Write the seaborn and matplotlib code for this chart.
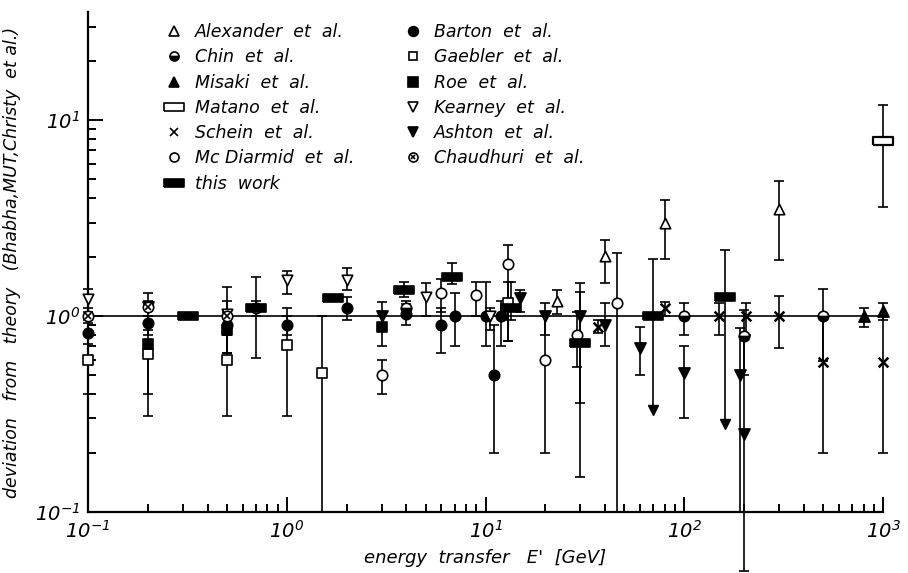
import numpy as np
import matplotlib
matplotlib.use("Agg")
import matplotlib.pyplot as plt
import seaborn as sns
from matplotlib.lines import Line2D

sns.set_theme(style="ticks", rc={
    "axes.edgecolor": "black", "text.color": "black",
    "axes.labelcolor": "black", "xtick.color": "black", "ytick.color": "black",
})
plt.rcParams["font.family"] = ["DejaVu Sans"]
plt.rcParams["font.style"] = "italic"
plt.rcParams["mathtext.fontset"] = "custom"
plt.rcParams["mathtext.rm"] = "DejaVu Sans:italic"
plt.rcParams["mathtext.it"] = "DejaVu Sans:italic"

# ---- measurements: energy transfer E' [GeV], ratio to theory, error limits ----
alexander_e = [23, 40, 80, 300]
alexander_r = [1.2, 2.02, 2.98, 3.5]
alexander_lo = [1.03, 1.47, 1.95, 1.93]
alexander_hi = [1.36, 2.44, 3.9, 4.9]

barton_e = [0.1, 0.2, 0.5, 1.0, 2.0, 4.0, 6.0, 7.0, 10.0, 11.0, 12.0]
barton_r = [0.82, 0.92, 0.9, 0.9, 1.1, 1.03, 0.9, 1.0, 1.0, 0.5, 1.0]
barton_lo = [0.72, 0.85, 0.8, 0.8, 0.95, 0.9, 0.65, 0.7, 0.7, 0.2, 0.7]
barton_hi = [0.92, 1.0, 1.0, 1.0, 1.25, 1.15, 1.1, 1.31, 1.5, 0.9, 1.2]

chin_e = [4.0, 100, 200, 500]
chin_r = [1.1, 1.0, 0.79, 1.0]
chin_lo = [1.0, 0.8, 0.5, 0.59]
chin_hi = [1.2, 1.16, 1.07, 1.37]

gaebler_e = [0.1, 0.2, 0.5, 1.0, 1.5, 13.0]
gaebler_r = [0.6, 0.64, 0.6, 0.71, 0.51, 1.16]
gaebler_lo = [0.40, 0.40, 0.31, 0.31, 0.1, 0.75]
gaebler_hi = [0.8, 0.75, 0.8, 1.1, 1.0, 1.5]

misaki_e = [800, 1000]
misaki_r = [1.0, 1.06]
misaki_lo = [0.88, 0.95]
misaki_hi = [1.1, 1.16]

roe_e = [0.2, 0.5, 3.0]
roe_r = [0.72, 0.85, 0.88]
roe_lo = [0.31, 0.65, 0.7]
roe_hi = [1.0, 1.05, 1.0]

matano_e = [1000]
matano_r = [7.8]
matano_lo = [3.6]
matano_hi = [11.9]

kearney_e = [0.1, 0.5, 1.0, 2.0, 5.0, 10.5]
kearney_r = [1.22, 1.03, 1.53, 1.53, 1.25, 1.0]
kearney_lo = [1.1, 0.9, 1.3, 1.35, 1.0, 0.85]
kearney_hi = [1.37, 1.2, 1.7, 1.75, 1.47, 1.1]

schein_e = [37, 80, 150, 205, 300, 500, 1000]
schein_r = [0.88, 1.1, 1.0, 1.0, 1.0, 0.58, 0.58]
schein_lo = [0.82, 1.0, 0.8, 0.8, 0.69, 0.2, 0.2]
schein_hi = [0.95, 1.18, 1.16, 1.16, 1.27, 1.0, 1.0]

ashton_e = [0.2, 3.0, 15.0, 20.0, 30.0, 40.0, 60.0, 100.0, 190.0, 200.0]
ashton_r = [1.11, 1.0, 1.23, 1.0, 1.0, 0.9, 0.69, 0.51, 0.5, 0.25]
ashton_lo = [1.0, 0.85, 1.05, 0.8, 0.15, 0.7, 0.5, 0.3, 0.1, 0.05]
ashton_hi = [1.2, 1.18, 1.36, 1.16, 1.47, 1.16, 0.88, 0.7, 0.87, 0.79]

mcdiarmid_e = [3.0, 6.0, 9.0, 13.0, 20.0, 29.0, 46.0]
mcdiarmid_r = [0.5, 1.31, 1.28, 1.84, 0.6, 0.8, 1.16]
mcdiarmid_lo = [0.4, 1.05, 1.0, 0.75, 0.2, 0.55, 0.1]
mcdiarmid_hi = [0.6, 1.55, 1.5, 2.3, 1.0, 1.05, 2.1]

chaudhuri_e = [0.1, 0.2, 0.5, 0.7]
chaudhuri_r = [1.0, 1.11, 1.0, 1.1]
chaudhuri_lo = [0.95, 0.8, 0.65, 1.0]
chaudhuri_hi = [1.05, 1.31, 1.4, 1.2]

this_work_e = [0.32, 0.7, 1.7, 3.9, 6.8, 13.5, 30.0, 70.0, 160.0]
this_work_r = [1.0, 1.1, 1.24, 1.36, 1.58, 1.1, 0.73, 1.0, 1.25]
this_work_lo = [1.0, 0.61, 1.24, 1.25, 1.45, 0.95, 0.36, 0.32, 0.27]
this_work_hi = [1.0, 1.58, 1.24, 1.49, 1.86, 1.5, 1.33, 1.95, 2.17]
this_work_limit = [False, False, False, False, False, False, False, True, True]

x_ticks = [0.1, 1, 10, 100, 1000]
x_ticklabels = [r"$10^{-1}$", r"$10^{0}$", r"$10^{1}$", r"$10^{2}$", r"$10^{3}$"]
y_ticks = [0.1, 1, 10]
y_ticklabels = [r"$10^{-1}$", r"$10^{0}$", r"$10^{1}$"]

# ---- figure ----
fig = plt.figure(figsize=(9.08, 5.73), dpi=100)
ax = fig.add_axes([88 / 908, 1 - 512 / 573, (883 - 88) / 908, (512 - 12) / 573])
ax.set_xscale("log")
ax.set_yscale("log")
ax.set_xlim(0.1, 1000)
ax.set_ylim(0.1, 35.6)

ax.axhline(1.0, color="black", lw=1.2, zorder=1)

EB = dict(fmt="none", ecolor="black", elinewidth=1.2, capsize=3.6, capthick=1.2, zorder=2)


def bars(e, r, lo, hi):
    r = np.asarray(r, float)
    yerr = np.vstack([r - np.asarray(lo, float), np.asarray(hi, float) - r])
    art = ax.errorbar(e, r, yerr=yerr, **EB)
    for a in list(art.lines[1]) + list(art.lines[2]):
        a.set_clip_on(False)
    return art


def points(e, r, marker, size, face, lw=1.2):
    sns.scatterplot(x=e, y=r, marker=marker, s=size ** 2, facecolor=face,
                    edgecolor="black", linewidth=lw, ax=ax, zorder=4, legend=False,
                    clip_on=False)


rect_open = [(-1, -0.42), (1, -0.42), (1, 0.42), (-1, 0.42), (-1, -0.42)]
rect_bar = [(-1, -0.36), (1, -0.36), (1, 0.36), (-1, 0.36), (-1, -0.36)]

# error bars
for e, r, lo, hi in [
    (alexander_e, alexander_r, alexander_lo, alexander_hi),
    (barton_e, barton_r, barton_lo, barton_hi),
    (chin_e, chin_r, chin_lo, chin_hi),
    (gaebler_e, gaebler_r, gaebler_lo, gaebler_hi),
    (misaki_e, misaki_r, misaki_lo, misaki_hi),
    (roe_e, roe_r, roe_lo, roe_hi),
    (matano_e, matano_r, matano_lo, matano_hi),
    (kearney_e, kearney_r, kearney_lo, kearney_hi),
    (schein_e, schein_r, schein_lo, schein_hi),
    (ashton_e, ashton_r, ashton_lo, ashton_hi),
    (mcdiarmid_e, mcdiarmid_r, mcdiarmid_lo, mcdiarmid_hi),
    (chaudhuri_e, chaudhuri_r, chaudhuri_lo, chaudhuri_hi),
]:
    bars(e, r, lo, hi)

# this work: normal bars and upper-limit style bars ending in an arrow head
tw_e = np.array(this_work_e)
tw_r = np.array(this_work_r)
tw_lo = np.array(this_work_lo)
tw_hi = np.array(this_work_hi)
lim = np.array(this_work_limit)
bars(tw_e[~lim], tw_r[~lim], tw_lo[~lim], tw_hi[~lim])
ax.errorbar(tw_e[lim], tw_r[lim], yerr=np.vstack([np.zeros(lim.sum()), tw_hi[lim] - tw_r[lim]]), **EB)
ax.vlines(tw_e[lim], tw_lo[lim], tw_r[lim], color="black", lw=1.2, zorder=2)
ax.plot(tw_e[lim], tw_lo[lim] * 1.04, ls="none", marker="v", ms=7, color="black", zorder=3)

# markers
points(alexander_e, alexander_r, "^", 7.5, "white")
points(barton_e, barton_r, "o", 7.5, "black")
ax.plot(chin_e, chin_r, ls="none", marker="o", ms=7.5, fillstyle="bottom",
        markerfacecolor="black", markerfacecoloralt="white", markeredgecolor="black",
        mew=1.2, zorder=4, clip_on=False)
points(gaebler_e, gaebler_r, "s", 7, "white")
points(misaki_e, misaki_r, "^", 8, "black")
points(roe_e, roe_r, "s", 7.5, "black")
points(matano_e, matano_r, rect_open, 14, "white", lw=1.6)
points(kearney_e, kearney_r, "v", 7.5, "white")
points(schein_e, schein_r, "x", 7, "black", lw=1.8)
points(ashton_e, ashton_r, "v", 8, "black")
points(mcdiarmid_e, mcdiarmid_r, "o", 7.5, "white")
points(chaudhuri_e, chaudhuri_r, "o", 7.5, "white")
ax.plot(chaudhuri_e, chaudhuri_r, ls="none", marker="x", ms=4, mew=1.2, color="black",
        zorder=5, clip_on=False)
points(this_work_e, this_work_r, rect_bar, 14.5, "black")

# axes styling
sns.despine(ax=ax)
for s in ("left", "bottom"):
    ax.spines[s].set_linewidth(1.6)
ax.tick_params(which="major", direction="in", length=10.5, width=1.4, labelsize=14, pad=6)
ax.tick_params(which="minor", direction="in", length=5.5, width=1.4)
ax.set_xticks(x_ticks)
ax.set_xticklabels(x_ticklabels)
ax.set_yticks(y_ticks)
ax.set_yticklabels(y_ticklabels)
ax.xaxis.set_minor_locator(matplotlib.ticker.LogLocator(base=10, subs=np.arange(2, 10), numticks=20))
ax.yaxis.set_minor_locator(matplotlib.ticker.LogLocator(base=10, subs=np.arange(2, 10), numticks=20))
ax.xaxis.set_minor_formatter(matplotlib.ticker.NullFormatter())
ax.yaxis.set_minor_formatter(matplotlib.ticker.NullFormatter())

ax.set_xlabel("energy  transfer   E'  [GeV]", fontsize=13, labelpad=5)
ax.set_ylabel("deviation   from   theory   (Bhabha,MUT,Christy  et al.)", fontsize=12.5, labelpad=10)

# legend
def h(marker, ms, face, **kw):
    return Line2D([], [], ls="none", marker=marker, ms=ms, markerfacecolor=face,
                  markeredgecolor="black", color="black", mew=1.2, **kw)

handles = [
    h("^", 6.5, "white"),
    h("o", 6.5, "black", fillstyle="bottom", markerfacecoloralt="white"),
    h("^", 7, "black"),
    h(rect_open, 14, "white", ),
    h("x", 6, "black"),
    h("o", 6.5, "white"),
    h(rect_bar, 15, "black"),
    h("o", 7, "black"),
    h("s", 6, "white"),
    h("s", 6.5, "black"),
    h("v", 6.5, "white"),
    h("v", 7, "black"),
    (h("o", 6.5, "white"), h("x", 3.5, "black")),
]
labels = [
    "Alexander  et  al.", "Chin  et  al.", "Misaki  et  al.", "Matano  et  al.",
    "Schein  et  al.", "Mc Diarmid  et  al.", "this  work",
    "Barton  et  al.", "Gaebler  et  al.", "Roe  et  al.", "Kearney  et  al.",
    "Ashton  et  al.", "Chaudhuri  et  al.",
]
leg = ax.legend(handles, labels, loc="upper left", bbox_to_anchor=(162 / 908, 1 - 23 / 573),
                bbox_transform=fig.transFigure, ncol=2, frameon=False, fontsize=12.5,
                labelspacing=0.42, handlelength=1.4, handletextpad=0.5, columnspacing=2.7,
                borderaxespad=0, borderpad=0)

fig.savefig("out.png", dpi=100)
